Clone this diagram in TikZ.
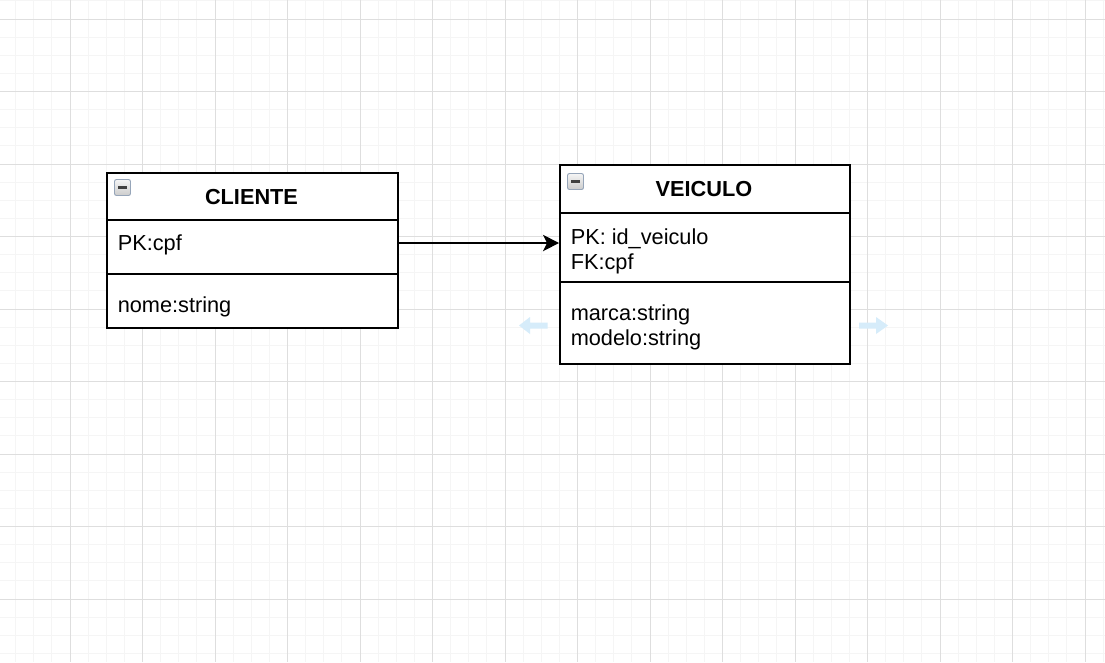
\documentclass[tikz,border=0pt]{standalone}
\usepackage{fontspec}
\setmainfont{Liberation Sans}
\usetikzlibrary{arrows.meta}
\definecolor{gridmaj}{RGB}{222,222,222}
\definecolor{gridmin}{RGB}{245,245,245}
\definecolor{hoverblue}{RGB}{214,236,250}
\definecolor{iconedge}{RGB}{150,165,185}
\tikzset{
  sect/.style={draw, line width=1.35pt, inner sep=0pt, anchor=north west, fill=white},
  attrtext/.style={anchor=base west, inner sep=0pt, font=\fontsize{16.3pt}{19pt}\selectfont},
  titletext/.style={anchor=base, inner sep=0pt, font=\fontsize{16.3pt}{19pt}\selectfont\bfseries},
  collapseicon/.style={rounded corners=1.5pt, top color=gray!8, bottom color=gray!40, draw=iconedge, line width=0.7pt},
  hover/.style={fill=hoverblue, draw=none},
  relline/.style={line width=1.1pt, -{Stealth[length=12pt, width=12.3pt, inset=3pt]}}
}
\begin{document}
\begin{tikzpicture}[x=0.75pt, y=-0.75pt]
\useasboundingbox (0,0) rectangle (1105,662);
\fill[white] (0,0) rectangle (1105,662);
% minor grid
\foreach \i in {-4,...,61} {
  \draw[gridmin, line width=0.75pt] ({70+18.125*\i},0) -- ({70+18.125*\i},662);
}
\foreach \j in {-1,...,36} {
  \draw[gridmin, line width=0.75pt] (0,{19+18.125*\j}) -- (1105,{19+18.125*\j});
}
% major grid
\foreach \i in {-1,...,15} {
  \draw[gridmaj, line width=0.75pt] ({70+72.5*\i},0) -- ({70+72.5*\i},662);
}
\foreach \j in {0,...,9} {
  \draw[gridmaj, line width=0.75pt] (0,{19+72.5*\j}) -- (1105,{19+72.5*\j});
}
% CLIENTE
\node[sect, minimum width=291*0.75pt, minimum height=47*0.75pt] (cliHead) at (106,172) {};
\node[sect, minimum width=291*0.75pt, minimum height=54*0.75pt] (cliAttr) at (106,219) {};
\node[sect, minimum width=291*0.75pt, minimum height=54*0.75pt] (cliBody) at (106,273) {};
\node[titletext] (cliTitle) at (251.5,204.3) {CLIENTE};
\node[attrtext] (cliPk) at (117.5,250.7) {PK:cpf};
\node[attrtext] (cliNome) at (117.5,312.5) {nome:string};
% VEICULO
\node[sect, minimum width=290*0.75pt, minimum height=48*0.75pt] (veiHead) at (559,164) {};
\node[sect, minimum width=290*0.75pt, minimum height=69*0.75pt] (veiAttr) at (559,212) {};
\node[sect, minimum width=290*0.75pt, minimum height=82*0.75pt] (veiBody) at (559,281) {};
\node[titletext] (veiTitle) at (704,196.7) {VEICULO};
\node[attrtext] (veiPk) at (570.5,244) {PK: id\_veiculo};
\node[attrtext] (veiFk) at (570.5,269) {FK:cpf};
\node[attrtext] (veiMarca) at (570.5,320.7) {marca:string};
\node[attrtext] (veiModelo) at (570.5,345) {modelo:string};
% collapse icons
\draw[collapseicon] (114.5,179.5) rectangle (130.5,195.5);
\fill[black!75] (118,186.3) rectangle (127,188.6);
\draw[collapseicon] (567.5,173.5) rectangle (583.5,189.5);
\fill[black!75] (571,180.3) rectangle (580,182.6);
% relation
\coordinate (relStart) at (cliAttr.east |- 0,243);
\coordinate (relEnd) at (veiAttr.west |- 0,243);
\draw[relline] (relStart) -- (relEnd);
% hover arrows
\fill[hover] (519,325.5) -- (530,317) -- (530,322.5) -- (547.7,322.5) -- (547.7,328.5) -- (530,328.5) -- (530,334) -- cycle;
\fill[hover] (888,325.5) -- (876,317) -- (876,322.5) -- (859,322.5) -- (859,328.5) -- (876,328.5) -- (876,334) -- cycle;
\end{tikzpicture}
\end{document}
